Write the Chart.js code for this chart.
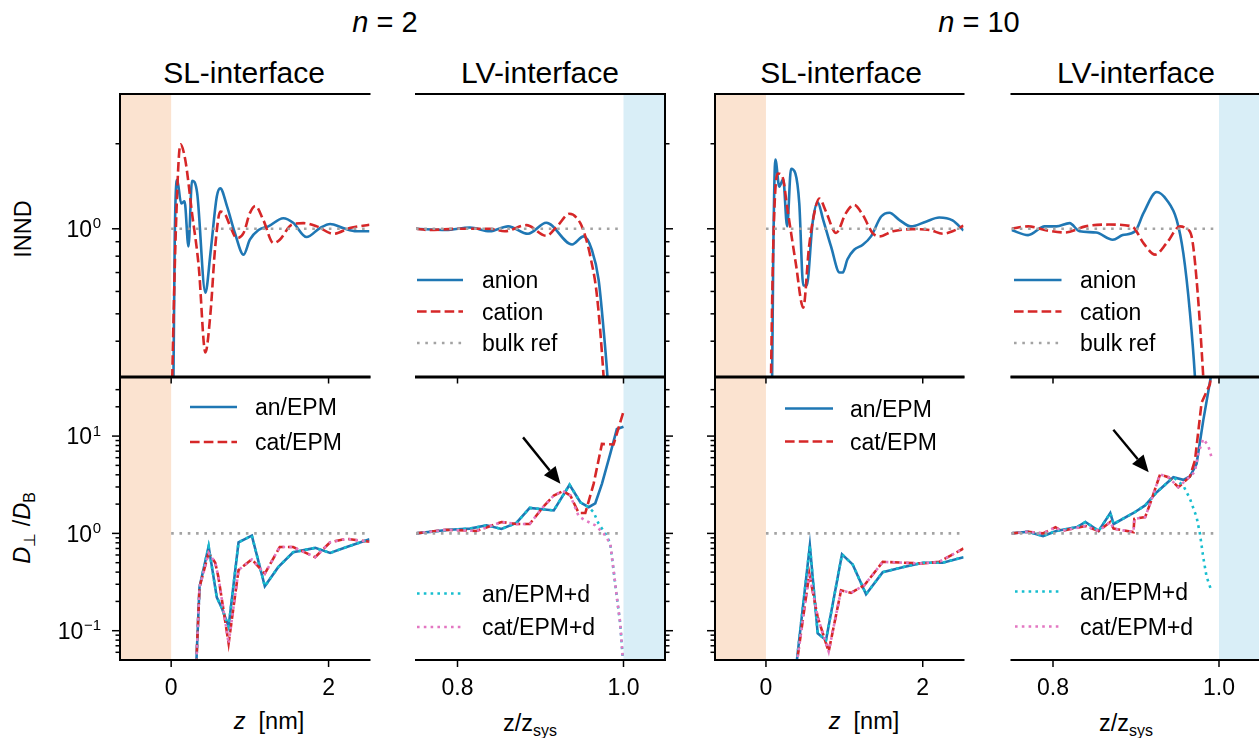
<!DOCTYPE html>
<html>
<head>
<meta charset="utf-8">
<title>INND and D/DB at the SL and LV interfaces</title>
<script src="https://cdn.jsdelivr.net/npm/chart.js"></script>
<style>
    * { margin: 0; padding: 0; box-sizing: border-box; }

    body {
        width: 1259px;
        height: 738px;
        overflow: hidden;
        position: relative;
        background: #fff;
        color: #000;
        font-family: "Liberation Sans", Arial, sans-serif;
    }

    canvas { position: absolute; left: 0; top: 0; }

    /* labels outside the plots */
    .lbl { position: absolute; line-height: 1; white-space: pre; transform: translateX(-50%); }
    .rot { position: absolute; line-height: 1; white-space: pre; font-size: 23.5px;
           transform: translate(-50%, -50%) rotate(-90deg); }
    .sub { position: relative; top: 0.32em; font-size: 0.68em; }
    .n { font-size: 29px; top: 7.5px; }
    .title { font-size: 30px; top: 58px; }
    .xl { font-size: 23.5px; }
</style>
</head>
<body>
<div class="lbl n" style="left:385px"><i>n</i> = 2</div>
<div class="lbl n" style="left:979px"><i>n</i> = 10</div>

<div class="lbl title" style="left:244px">SL-interface</div>
<div class="lbl title" style="left:540px">LV-interface</div>
<div class="lbl title" style="left:841px">SL-interface</div>
<div class="lbl title" style="left:1136px">LV-interface</div>

<div class="rot" style="left:23.5px; top:229px">INND</div>
<div class="rot" style="left:22.5px; top:527.5px"><i>D</i><span class="sub">⊥</span> /<i>D</i><span class="sub">B</span></div>

<div class="lbl xl" style="left:269px; top:710px"><i>z</i>  [nm]</div>
<div class="lbl xl" style="left:864px; top:710px"><i>z</i>  [nm]</div>
<div class="lbl xl" style="left:530px; top:712px">z/z<span class="sub">sys</span></div>
<div class="lbl xl" style="left:1126px; top:712px">z/z<span class="sub">sys</span></div>

<script>
    // ---------- data ----------
    // top row: INND, n = 2, SL interface (x = z in nm)
    const Z_INND_SL2_AN = [0.015, 0.045, 0.076, 0.127, 0.17, 0.22, 0.265, 0.33, 0.435, 0.5, 0.58, 0.624, 0.71, 0.81, 0.92, 1.0, 1.11, 1.235, 1.425, 1.55, 1.72, 1.89, 2.02, 2.185, 2.355, 2.52];
    const INND_SL2_AN   = [0.1, 0.9, 1.49, 1.23, 1.25, 0.866, 1.48, 1.34, 0.594, 0.823, 1.30, 1.39, 1.20, 0.966, 0.81, 0.915, 0.99, 1.02, 1.09, 1.05, 0.935, 1.006, 1.04, 1.006, 0.98, 0.98];
    const Z_INND_SL2_CAT = [-0.01, 0.06, 0.118, 0.18, 0.265, 0.35, 0.435, 0.5, 0.56, 0.624, 0.69, 0.75, 0.835, 0.92, 1.0, 1.07, 1.17, 1.3, 1.38, 1.53, 1.68, 1.85, 2.06, 2.27, 2.52];
    const INND_SL2_CAT   = [0.15, 1.0, 1.99, 1.75, 1.136, 0.737, 0.365, 0.505, 0.866, 1.15, 1.12, 1.02, 0.927, 0.966, 1.136, 1.205, 1.076, 0.89, 0.915, 1.033, 1.047, 1.02, 0.96, 1.006, 1.033];

    // top row: INND, n = 2, LV interface (x = z/zsys)
    const S_INND_LV2_AN = [0.75, 0.786, 0.815, 0.839, 0.861, 0.885, 0.907, 0.938, 0.952, 0.962, 0.97, 0.976, 0.981, 0.99];
    const INND_LV2_AN   = [1.0, 0.99, 1.01, 0.98, 1.02, 0.96, 1.05, 0.88, 0.94, 0.84, 0.66, 0.44, 0.29, 0.1];
    const S_INND_LV2_CAT = [0.75, 0.766, 0.80, 0.839, 0.857, 0.883, 0.907, 0.92, 0.935, 0.948, 0.954, 0.96, 0.968, 0.976, 0.985];
    const INND_LV2_CAT   = [1.0, 0.99, 1.0, 1.0, 0.98, 1.03, 0.945, 1.02, 1.13, 1.047, 0.94, 0.8, 0.58, 0.30, 0.1];

    // top row: INND, n = 10, SL interface
    const Z_INND_SL10_AN = [0.064, 0.093, 0.12, 0.17, 0.22, 0.27, 0.32, 0.375, 0.425, 0.476, 0.52, 0.595, 0.66, 0.73, 0.83, 0.94, 0.98, 1.04, 1.125, 1.235, 1.34, 1.47, 1.575, 1.7, 1.85, 2.04, 2.21, 2.38, 2.52];
    const INND_SL10_AN   = [0.1, 0.8, 1.76, 1.41, 1.50, 1.02, 1.63, 1.57, 1.23, 0.63, 0.63, 1.05, 1.24, 1.076, 0.866, 0.70, 0.70, 0.78, 0.843, 0.878, 0.94, 1.105, 1.14, 1.076, 1.02, 1.06, 1.096, 1.07, 0.986];
    const Z_INND_SL10_CAT = [0.04, 0.093, 0.15, 0.21, 0.275, 0.38, 0.476, 0.55, 0.617, 0.68, 0.766, 0.894, 1.02, 1.125, 1.235, 1.36, 1.45, 1.62, 1.87, 2.09, 2.26, 2.38, 2.52];
    const INND_SL10_CAT   = [0.1, 0.866, 1.57, 1.53, 1.17, 0.757, 0.526, 0.866, 1.136, 1.28, 1.15, 0.966, 1.136, 1.215, 1.12, 0.966, 0.94, 0.98, 0.997, 0.99, 0.96, 0.98, 1.025];

    // top row: INND, n = 10, LV interface
    const S_INND_LV10_AN = [0.75, 0.77, 0.79, 0.804, 0.82, 0.832, 0.852, 0.872, 0.884, 0.899, 0.909, 0.925, 0.937, 0.949, 0.957, 0.965, 0.971, 0.978];
    const INND_LV10_AN   = [0.99, 0.95, 1.02, 1.02, 1.047, 0.98, 0.97, 0.915, 0.95, 0.98, 1.136, 1.35, 1.265, 1.076, 0.82, 0.505, 0.30, 0.12];
    const S_INND_LV10_CAT = [0.75, 0.77, 0.794, 0.815, 0.839, 0.867, 0.895, 0.909, 0.923, 0.937, 0.953, 0.961, 0.967, 0.973, 0.981, 0.988];
    const INND_LV10_CAT   = [1.0, 1.02, 0.985, 0.97, 1.02, 1.035, 1.02, 0.89, 0.81, 0.89, 1.02, 1.0, 0.94, 0.66, 0.30, 0.12];

    // bottom row: D/DB, n = 2, SL interface (the +d curves lie on top of these)
    const Z_D_SL2_AN = [0.31, 0.36, 0.476, 0.58, 0.645, 0.73, 0.856, 1.025, 1.19, 1.36, 1.55, 1.83, 2.02, 2.23, 2.52];
    const D_SL2_AN   = [0.03, 0.28, 0.735, 0.22, 0.17, 0.11, 0.81, 0.95, 0.286, 0.45, 0.64, 0.71, 0.63, 0.725, 0.87];
    const Z_D_SL2_CAT = [0.31, 0.36, 0.476, 0.56, 0.6, 0.73, 0.856, 1.025, 1.19, 1.38, 1.55, 1.83, 2.02, 2.23, 2.52];
    const D_SL2_CAT   = [0.03, 0.28, 0.63, 0.50, 0.357, 0.074, 0.42, 0.54, 0.386, 0.725, 0.725, 0.57, 0.81, 0.88, 0.82];

    // bottom row: D/DB, n = 2, LV interface
    const S_D_LV2_AN = [0.75, 0.79, 0.815, 0.835, 0.853, 0.871, 0.887, 0.916, 0.935, 0.948, 0.958, 0.966, 0.974, 0.984, 0.992, 1.0];
    const D_LV2_AN   = [1.0, 1.09, 1.12, 1.21, 1.11, 1.28, 1.83, 1.72, 3.16, 2.09, 1.86, 2.04, 3.23, 6.57, 11.8, 12.5];
    const S_D_LV2_CAT = [0.75, 0.786, 0.823, 0.853, 0.871, 0.887, 0.903, 0.916, 0.927, 0.936, 0.946, 0.954, 0.964, 0.974, 0.988, 1.0];
    const D_LV2_CAT   = [1.0, 1.09, 1.06, 1.31, 1.25, 1.25, 1.86, 2.45, 2.72, 2.45, 1.62, 1.62, 3.23, 8.3, 8.2, 17.9];
    const S_D_LV2_AND = [0.75, 0.79, 0.815, 0.835, 0.853, 0.871, 0.887, 0.916, 0.935, 0.948, 0.958, 0.964, 0.97, 0.978, 0.984, 0.988, 0.992, 0.996, 0.999, 1.0];
    const D_LV2_AND   = [1.0, 1.09, 1.12, 1.21, 1.11, 1.28, 1.83, 1.72, 3.16, 2.09, 1.86, 1.65, 1.26, 1.0, 0.79, 0.42, 0.22, 0.12, 0.054, 0.045];
    const S_D_LV2_CATD = [0.75, 0.786, 0.823, 0.853, 0.871, 0.887, 0.903, 0.916, 0.927, 0.936, 0.946, 0.954, 0.966, 0.976, 0.984, 0.988, 0.992, 0.996, 0.999, 1.0];
    const D_LV2_CATD   = [1.0, 1.09, 1.06, 1.31, 1.25, 1.25, 1.86, 2.45, 2.72, 2.45, 1.5, 1.36, 1.21, 1.0, 0.79, 0.42, 0.22, 0.12, 0.054, 0.045];

    // bottom row: D/DB, n = 10, SL interface
    const Z_D_SL10_AN = [0.38, 0.56, 0.66, 0.766, 0.97, 1.106, 1.277, 1.49, 1.745, 2.0, 2.255, 2.52];
    const D_SL10_AN   = [0.039, 0.753, 0.094, 0.08, 0.61, 0.48, 0.237, 0.40, 0.45, 0.50, 0.50, 0.57];
    const Z_D_SL10_CAT = [0.38, 0.553, 0.66, 0.8, 0.958, 1.085, 1.255, 1.49, 1.745, 2.0, 2.21, 2.52];
    const D_SL10_CAT   = [0.039, 0.386, 0.138, 0.061, 0.26, 0.245, 0.293, 0.51, 0.50, 0.49, 0.51, 0.70];

    // bottom row: D/DB, n = 10, LV interface
    const S_D_LV10_AN = [0.75, 0.77, 0.788, 0.804, 0.829, 0.839, 0.855, 0.869, 0.873, 0.897, 0.911, 0.925, 0.945, 0.957, 0.965, 0.973, 0.981, 0.992];
    const D_LV10_AN   = [1.0, 1.04, 0.94, 1.06, 1.16, 1.31, 1.06, 1.62, 1.25, 1.62, 1.94, 2.65, 3.78, 3.55, 3.84, 5.2, 14.4, 50];
    const S_D_LV10_CAT = [0.75, 0.77, 0.788, 0.803, 0.81, 0.839, 0.855, 0.869, 0.873, 0.897, 0.898, 0.911, 0.917, 0.929, 0.939, 0.951, 0.965, 0.971, 0.979, 0.989, 0.991];
    const D_LV10_CAT   = [1.0, 1.04, 1.0, 1.16, 1.06, 1.19, 1.06, 1.31, 1.12, 1.03, 1.41, 1.47, 2.02, 4.03, 3.78, 2.98, 3.84, 5.6, 22, 34, 45];
    const S_D_LV10_AND = [0.75, 0.77, 0.788, 0.804, 0.829, 0.839, 0.855, 0.869, 0.873, 0.897, 0.911, 0.925, 0.945, 0.957, 0.965, 0.973, 0.977, 0.981, 0.985, 0.99];
    const D_LV10_AND   = [1.0, 1.04, 0.94, 1.06, 1.16, 1.31, 1.06, 1.62, 1.25, 1.62, 1.94, 2.65, 3.78, 3.1, 2.27, 1.47, 1.0, 0.57, 0.36, 0.27];
    const S_D_LV10_CATD = [0.75, 0.77, 0.788, 0.803, 0.81, 0.839, 0.855, 0.869, 0.873, 0.897, 0.898, 0.911, 0.917, 0.929, 0.939, 0.951, 0.965, 0.971, 0.975, 0.981, 0.987, 0.991];
    const D_LV10_CATD   = [1.0, 1.04, 1.0, 1.16, 1.06, 1.19, 1.06, 1.31, 1.12, 1.03, 1.41, 1.47, 2.02, 4.03, 3.78, 2.98, 3.84, 4.3, 6.6, 9.35, 8.0, 6.07];

    // bulk reference
    const Z_BULK_SL = [0, 2.52];
    const S_BULK_LV = [0.75, 1.0];
    const BULK = [1, 1];

    // axis ticks
    const INND_MAJOR = [1];
    const INND_MINOR = [0.4, 0.5, 0.6, 0.7, 0.8, 0.9, 2];
    const D_MAJOR = [0.1, 1, 10];
    const D_MINOR = [0.06, 0.07, 0.08, 0.09, 0.2, 0.3, 0.4, 0.5, 0.6, 0.7, 0.8, 0.9, 2, 3, 4, 5, 6, 7, 8, 9, 20, 30];
    const SL_TICKS = [0, 2];
    const SL_TICK_LABELS = ['0', '2'];
    const LV_TICKS = [0.8, 1.0];
    const LV_TICK_LABELS = ['0.8', '1.0'];

    // ---------- styles ----------
    const LW = 2.6;
    const STYLE = {
        an:   { color: '#1f77b4', dash: [] },
        cat:  { color: '#d62728', dash: [9.6, 4.2] },
        and:  { color: '#17becf', dash: [2.6, 4.2] },
        catd: { color: '#e377c2', dash: [2.6, 4.2] },
        ref:  { color: '#a3a3a3', dash: [2.6, 5.7] }
    };
    const TICK_FONT = '23px "Liberation Sans", Arial, sans-serif';
    const SUP_FONT = '15px "Liberation Sans", Arial, sans-serif';

    const COLS = [[120, 369.5], [416, 665], [715, 963.5], [1011.5, 1260.5]];
    const ROWS = [[94, 376.5], [377.5, 660]];
    const CW = 1280, CH = 738;

    function pts(xs, ys) {
        return xs.map((x, i) => ({ x: x, y: ys[i] }));
    }

    // z = drawing level as in matplotlib (higher = on top)
    function line(key, xs, ys, z, smooth) {
        const s = STYLE[key];
        return {
            data: pts(xs, ys),
            borderColor: s.color,
            borderWidth: LW,
            borderDash: s.dash,
            borderCapStyle: 'butt',
            pointRadius: 0,
            fill: false,
            clip: 0,
            order: -z,
            tension: 0,
            capBezierPoints: false,
            cubicInterpolationMode: smooth ? 'monotone' : 'default'
        };
    }

    function drawPow(ctx, right, base, exp) {
        const sup = exp < 0 ? '\u2212' + (-exp) : String(exp);
        ctx.font = SUP_FONT;
        const ws = ctx.measureText(sup).width;
        ctx.font = TICK_FONT;
        const wb = ctx.measureText('10').width;
        ctx.textAlign = 'left';
        ctx.textBaseline = 'alphabetic';
        ctx.fillText('10', right - ws - wb - 0.5, base);
        ctx.font = SUP_FONT;
        ctx.fillText(sup, right - ws, base - 8.7);
    }

    function strokeStyled(ctx, key, x0, y0, x1, y1) {
        const s = STYLE[key];
        ctx.save();
        ctx.strokeStyle = s.color;
        ctx.lineWidth = LW;
        ctx.setLineDash(s.dash);
        ctx.beginPath();
        ctx.moveTo(x0, y0);
        ctx.lineTo(x1, y1);
        ctx.stroke();
        ctx.restore();
    }

    // bands, spines, ticks, legend and arrow of one panel
    function makeDecor(o) {
        return {
            id: 'decor',
            beforeDatasetsDraw(chart) {
                const { ctx, chartArea: a } = chart;
                const x = chart.scales.x;
                const x0 = Math.max(a.left, x.getPixelForValue(o.band[0]));
                const x1 = Math.min(a.right, x.getPixelForValue(o.band[1]));
                ctx.save();
                ctx.fillStyle = o.bandColor;
                ctx.fillRect(x0, a.top, x1 - x0, a.bottom - a.top);
                ctx.restore();
            },
            afterDatasetsDraw(chart) {
                const { ctx, chartArea: a } = chart;
                const x = chart.scales.x, y = chart.scales.y;
                const seg = (x0, y0, x1, y1) => {
                    ctx.beginPath(); ctx.moveTo(x0, y0); ctx.lineTo(x1, y1); ctx.stroke();
                };
                ctx.save();
                ctx.strokeStyle = '#000';
                ctx.fillStyle = '#000';
                ctx.setLineDash([]);

                // ticks
                ctx.lineWidth = 1.5;
                const ex = o.ySide === 'left' ? a.left : a.right;
                const dir = o.ySide === 'left' ? -1 : 1;
                o.yMinor.forEach(v => { const p = y.getPixelForValue(v); seg(ex, p, ex + dir * 4.5, p); });
                o.yMajor.forEach(v => { const p = y.getPixelForValue(v); seg(ex, p, ex + dir * 8, p); });
                o.xTicks.forEach(v => { const p = x.getPixelForValue(v); seg(p, a.bottom, p, a.bottom + 7); });

                // spines
                ctx.lineWidth = 2;
                seg(a.left - 1, a.top, a.right + 1, a.top);
                seg(a.left - 1, a.bottom, a.right + 1, a.bottom);
                if (o.ySide === 'left') seg(a.left, a.top - 1, a.left, a.bottom + 1);
                else seg(a.right, a.top - 1, a.right, a.bottom + 1);

                // tick labels
                ctx.font = TICK_FONT;
                if (o.xLabels) {
                    ctx.textAlign = 'center';
                    ctx.textBaseline = 'alphabetic';
                    o.xTicks.forEach((v, i) => ctx.fillText(o.xLabels[i], x.getPixelForValue(v), a.bottom + 35));
                }
                if (o.yLabels) {
                    o.yMajor.forEach(v => drawPow(ctx, a.left - 19, y.getPixelForValue(v) + 8.3, Math.round(Math.log10(v))));
                }

                // legend
                if (o.legend) {
                    const L = o.legend;
                    L.items.forEach((it, i) => {
                        const ry = a.top + L.y0 + i * L.gap;
                        strokeStyled(ctx, it[0], a.left + L.lx0, ry, a.left + L.lx1, ry);
                        ctx.font = TICK_FONT;
                        ctx.textAlign = 'left';
                        ctx.textBaseline = 'alphabetic';
                        ctx.fillStyle = '#000';
                        ctx.fillText(it[1], a.left + L.tx, ry + 8.3);
                    });
                }

                // arrow
                if (o.arrow) {
                    const fx = x.getPixelForValue(o.arrow[0]), fy = y.getPixelForValue(o.arrow[1]);
                    const tx = x.getPixelForValue(o.arrow[2]), ty = y.getPixelForValue(o.arrow[3]);
                    const ang = Math.atan2(ty - fy, tx - fx);
                    const hl = 17, hw = 7.5;
                    const bx = tx - hl * Math.cos(ang), by = ty - hl * Math.sin(ang);
                    ctx.lineWidth = 2.4;
                    seg(fx, fy, bx, by);
                    ctx.beginPath();
                    ctx.moveTo(tx, ty);
                    ctx.lineTo(bx + hw * Math.sin(ang), by - hw * Math.cos(ang));
                    ctx.lineTo(bx - hw * Math.sin(ang), by + hw * Math.cos(ang));
                    ctx.closePath();
                    ctx.fill();
                }
                ctx.restore();
            }
        };
    }

    function makePanel(col, row, kind, datasets, extra) {
        const c = COLS[col], r = ROWS[row];
        const sl = kind === 'SL';
        const cv = document.createElement('canvas');
        cv.width = CW; cv.height = CH;
        cv.style.width = CW + 'px'; cv.style.height = CH + 'px';
        document.body.appendChild(cv);

        const deco = Object.assign({
            band: sl ? [-0.65, 0] : [1.0, 1.05],
            bandColor: sl ? '#fbe3d0' : '#d9eef7',
            ySide: sl ? 'left' : 'right',
            yMajor: row === 0 ? INND_MAJOR : D_MAJOR,
            yMinor: row === 0 ? INND_MINOR : D_MINOR,
            yLabels: false,
            xTicks: sl ? SL_TICKS : LV_TICKS,
            xLabels: row === 1 ? (sl ? SL_TICK_LABELS : LV_TICK_LABELS) : null,
            legend: null,
            arrow: null
        }, extra || {});

        return new Chart(cv, {
            type: 'line',
            data: { datasets: datasets },
            options: {
                responsive: false,
                animation: false,
                devicePixelRatio: 1,
                events: [],
                layout: { padding: { left: c[0], right: CW - c[1], top: r[0], bottom: CH - r[1] } },
                scales: {
                    x: { type: 'linear', display: false, min: sl ? -0.65 : 0.75, max: sl ? 2.52 : 1.05 },
                    y: { type: 'logarithmic', display: false,
                         min: row === 0 ? 0.3 : 0.05, max: row === 0 ? 3 : 40 }
                },
                plugins: { legend: { display: false }, tooltip: { enabled: false } }
            },
            plugins: [makeDecor(deco)]
        });
    }

    const LEG_TOP = [['an', 'anion'], ['cat', 'cation'], ['ref', 'bulk ref']];
    const LEG_EPM = [['an', 'an/EPM'], ['cat', 'cat/EPM']];
    const LEG_EPMD = [['and', 'an/EPM+d'], ['catd', 'cat/EPM+d']];

    // bottom row first so that the ticks of the top row stay visible
    makePanel(0, 1, 'SL', [
        line('an', Z_D_SL2_AN, D_SL2_AN, 1),
        line('cat', Z_D_SL2_CAT, D_SL2_CAT, 2),
        line('and', Z_D_SL2_AN, D_SL2_AN, 3),
        line('catd', Z_D_SL2_CAT, D_SL2_CAT, 4),
        line('ref', Z_BULK_SL, BULK, 5)
    ], { yLabels: true, legend: { lx0: 70, lx1: 117, tx: 135, y0: 29.5, gap: 35, items: LEG_EPM } });

    makePanel(1, 1, 'LV', [
        line('an', S_D_LV2_AN, D_LV2_AN, 1),
        line('cat', S_D_LV2_CAT, D_LV2_CAT, 2),
        line('and', S_D_LV2_AND, D_LV2_AND, 3),
        line('catd', S_D_LV2_CATD, D_LV2_CATD, 4),
        line('ref', S_BULK_LV, BULK, 5)
    ], { legend: { lx0: 1, lx1: 46, tx: 66, y0: 216, gap: 33.5, items: LEG_EPMD },
         arrow: [0.879, 9.7, 0.924, 3.23] });

    makePanel(2, 1, 'SL', [
        line('an', Z_D_SL10_AN, D_SL10_AN, 1),
        line('cat', Z_D_SL10_CAT, D_SL10_CAT, 2),
        line('and', Z_D_SL10_AN, D_SL10_AN, 3),
        line('catd', Z_D_SL10_CAT, D_SL10_CAT, 4),
        line('ref', Z_BULK_SL, BULK, 5)
    ], { legend: { lx0: 70, lx1: 118, tx: 135, y0: 31, gap: 33, items: LEG_EPM } });

    makePanel(3, 1, 'LV', [
        line('an', S_D_LV10_AN, D_LV10_AN, 1),
        line('cat', S_D_LV10_CAT, D_LV10_CAT, 2),
        line('and', S_D_LV10_AND, D_LV10_AND, 3),
        line('catd', S_D_LV10_CATD, D_LV10_CATD, 4),
        line('ref', S_BULK_LV, BULK, 5)
    ], { legend: { lx0: 3.5, lx1: 47, tx: 68.5, y0: 214, gap: 35, items: LEG_EPMD },
         arrow: [0.8727, 11.6, 0.9153, 4.25] });

    makePanel(0, 0, 'SL', [
        line('an', Z_INND_SL2_AN, INND_SL2_AN, 1, true),
        line('cat', Z_INND_SL2_CAT, INND_SL2_CAT, 2, true),
        line('ref', Z_BULK_SL, BULK, 3)
    ], { yLabels: true });

    makePanel(1, 0, 'LV', [
        line('an', S_INND_LV2_AN, INND_LV2_AN, 1, true),
        line('cat', S_INND_LV2_CAT, INND_LV2_CAT, 2, true),
        line('ref', S_BULK_LV, BULK, 3)
    ], { legend: { lx0: 1, lx1: 47, tx: 66, y0: 186, gap: 31.5, items: LEG_TOP } });

    makePanel(2, 0, 'SL', [
        line('an', Z_INND_SL10_AN, INND_SL10_AN, 1, true),
        line('cat', Z_INND_SL10_CAT, INND_SL10_CAT, 2, true),
        line('ref', Z_BULK_SL, BULK, 3)
    ]);

    makePanel(3, 0, 'LV', [
        line('an', S_INND_LV10_AN, INND_LV10_AN, 1, true),
        line('cat', S_INND_LV10_CAT, INND_LV10_CAT, 2, true),
        line('ref', S_BULK_LV, BULK, 3)
    ], { legend: { lx0: 2.5, lx1: 50, tx: 68.5, y0: 186, gap: 31.5, items: LEG_TOP } });
</script>
</body>
</html>
